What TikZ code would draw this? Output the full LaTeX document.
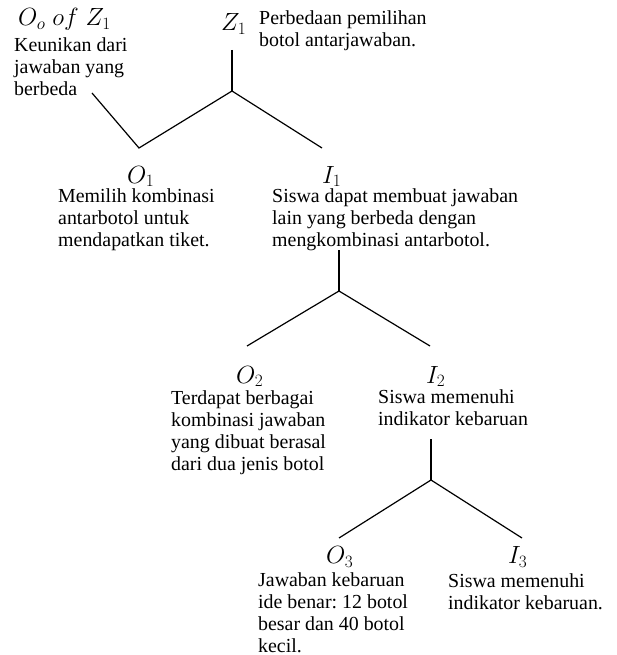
\documentclass[tikz,border=0pt]{standalone}
\usepackage{fontspec}
\setmainfont{Liberation Serif}
\frenchspacing
\begin{document}
\begin{tikzpicture}[x=1pt,y=-1pt,
  % multi-line notes are anchored at the baseline of their last line
  txt/.style={anchor=base west, inner sep=0pt, align=left,
              font=\fontsize{19.9}{22}\selectfont},
  lbl/.style={anchor=base west, inner sep=0pt,
              font=\fontsize{24}{26}\selectfont},
  branch/.style={line width=1.2pt, line join=miter}]
\useasboundingbox (0,0) rectangle (617,655);

% ---- level 1 ----
\node[lbl] (oz) at (18,25.5) {$O_o\; of\; Z_1$};
\node[txt] (oztext) at (14,95.5) {Keunikan dari\\jawaban yang\\berbeda};
\node[lbl] (z1) at (221,30.5) {$Z_1$};
\node[txt] (z1text) at (259,46.5) {Perbedaan pemilihan\\botol antarjawaban.};

\coordinate (t1top) at (232,50);
\coordinate (t1mid) at (232,91);
\coordinate (t1left) at (139,148);
\coordinate (t1back) at (92,93);
\coordinate (t1right) at (322,148);
\draw[branch] (t1top) -- (t1mid);
\draw[branch] (t1back) -- (t1left) -- (t1mid) -- (t1right);

\node[lbl] (o1) at (127,183) {$O_1$};
\node[txt] (o1text) at (58,246) {Memilih kombinasi\\antarbotol untuk\\mendapatkan tiket.};
\node[lbl] (i1) at (322,183) {$I_1$};
\node[txt] (i1text) at (272,246) {Siswa dapat membuat jawaban\\lain yang berbeda dengan\\mengkombinasi antarbotol.};

% ---- level 2 ----
\coordinate (t2top) at (339,250);
\coordinate (t2mid) at (339,291);
\coordinate (t2left) at (247,346);
\coordinate (t2right) at (430,346);
\draw[branch] (t2top) -- (t2mid);
\draw[branch] (t2left) -- (t2mid) -- (t2right);

\node[lbl] (o2) at (236,383) {$O_2$};
\node[txt] (o2text) at (171,470) {Terdapat berbagai\\kombinasi jawaban\\yang dibuat berasal\\dari dua jenis botol};
\node[lbl] (i2) at (426,383) {$I_2$};
\node[txt] (i2text) at (378,425.5) {Siswa memenuhi\\indikator kebaruan};

% ---- level 3 ----
\coordinate (t3top) at (431,439);
\coordinate (t3mid) at (431,480);
\coordinate (t3left) at (339,538);
\coordinate (t3right) at (522,538);
\draw[branch] (t3top) -- (t3mid);
\draw[branch] (t3left) -- (t3mid) -- (t3right);

\node[lbl] (o3) at (326,563.5) {$O_3$};
\node[txt] (o3text) at (258,652) {Jawaban kebaruan\\ide benar: 12 botol\\besar dan 40 botol\\kecil.};
\node[lbl] (i3) at (508,563.5) {$I_3$};
\node[txt] (i3text) at (448,609) {Siswa memenuhi\\indikator kebaruan.};
\end{tikzpicture}
\end{document}
